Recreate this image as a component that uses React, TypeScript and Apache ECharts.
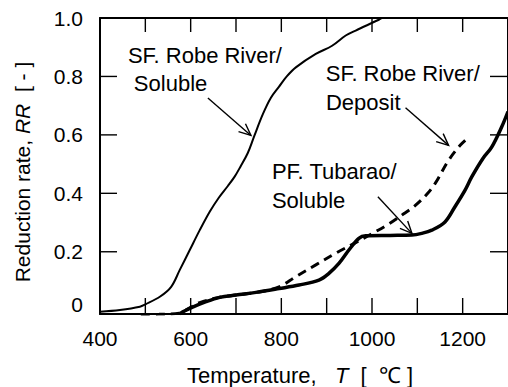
import React, { useEffect, useRef } from "react";
import * as echarts from "echarts";

const xLabelValues = [400, 600, 800, 1000, 1200];
const xTickValues = [500, 600, 700, 800, 900, 1000, 1100, 1200];
const yLabelValues = [0, 0.2, 0.4, 0.6, 0.8, 1.0];
const yTickValues = [0.2, 0.4, 0.6, 0.8];

const sfRobeSoluble = [
  [400, -0.005], [444, 0.001], [488, 0.012], [500, 0.02], [532, 0.046], [557, 0.08],
  [576, 0.138], [598, 0.206], [620, 0.274], [642, 0.337], [662, 0.385], [682, 0.425],
  [697, 0.457], [710, 0.492], [726, 0.538], [740, 0.595], [759, 0.67], [777, 0.727],
  [795, 0.765], [812, 0.8], [832, 0.831], [876, 0.877], [912, 0.905], [942, 0.94],
  [964, 0.957], [1015, 0.994], [1022, 1.0],
];

const sfRobeDeposit = [
  [490, -0.015], [530, -0.014], [575, -0.01], [600, 0.01], [620, 0.026], [660, 0.043],
  [700, 0.052], [750, 0.062], [795, 0.08], [832, 0.115], [876, 0.155], [920, 0.195],
  [960, 0.228], [1000, 0.262], [1037, 0.295], [1070, 0.33], [1095, 0.358], [1120, 0.395],
  [1139, 0.433], [1169, 0.513], [1195, 0.565], [1216, 0.595],
];

const pfTubaraoSoluble = [
  [576, -0.012], [598, 0.006], [634, 0.029], [664, 0.044], [700, 0.052], [744, 0.061],
  [795, 0.074], [839, 0.086], [883, 0.103], [905, 0.126], [927, 0.16],
  [949, 0.206], [971, 0.246], [986, 0.255], [1040, 0.256], [1088, 0.257], [1110, 0.263],
  [1132, 0.274], [1161, 0.302], [1183, 0.354], [1205, 0.41], [1220, 0.456], [1245, 0.52],
  [1264, 0.558], [1286, 0.627], [1300, 0.68],
];

const annotationTexts = [
  { text: "SF. Robe River/", at: [461.5, 0.872] },
  { text: "Soluble", at: [474.7, 0.777] },
  { text: "SF. Robe River/", at: [897.9, 0.809] },
  { text: "Deposit", at: [898.5, 0.712] },
  { text: "PF. Tubarao/", at: [779.3, 0.476] },
  { text: "Soluble", at: [779.3, 0.376] },
];

const annotationArrows = [
  { from: [638, 0.726], to: [733, 0.598] },
  { from: [1074, 0.693], to: [1169, 0.564] },
  { from: [1013, 0.388], to: [1088, 0.263] },
];

const X_MIN = 400;
const X_MAX = 1300;
const Y_MIN = -0.013;
const Y_MAX = 1.0;

const FONT = "'Liberation Sans', Arial, Helvetica, sans-serif";

export default function App() {
  const ref = useRef<HTMLDivElement>(null);

  useEffect(() => {
    document.body.style.margin = "0";
    if (!ref.current) return;
    const chart = echarts.init(ref.current, null, { renderer: "svg" });

    const axisLineStyle = { color: "#000", width: 2 };

    // plot size in px -> convert tick lengths to data units
    const plotW = 508 - 100;
    const plotH = 387 - 18 - 73;
    const dxPerPx = (X_MAX - X_MIN) / plotW;
    const dyPerPx = (Y_MAX - Y_MIN) / plotH;

    const tickSeries: any[] = [];
    xTickValues.forEach((v) => {
      tickSeries.push([[v, Y_MIN], [v, Y_MIN + 16 * dyPerPx]]);
      tickSeries.push([[v, Y_MAX], [v, Y_MAX - 14 * dyPerPx]]);
    });
    yTickValues.forEach((v) => {
      tickSeries.push([[X_MIN, v], [X_MIN + 17 * dxPerPx, v]]);
      tickSeries.push([[X_MAX, v], [X_MAX - 18 * dxPerPx, v]]);
    });

    const option: any = {
      animation: false,
      grid: { left: 100, right: 0, top: 18, bottom: 73 },
      xAxis: [
        {
          type: "value",
          min: X_MIN,
          max: X_MAX,
          position: "bottom",
          axisLine: { show: true, onZero: false, lineStyle: axisLineStyle },
          axisTick: { show: false },
          axisLabel: {
            show: true,
            customValues: xLabelValues,
            color: "#000",
            fontSize: 21,
            fontFamily: FONT,
            margin: 14,
            formatter: (v: number) => String(v),
          },
          splitLine: { show: false },
        },
        {
          type: "value",
          min: X_MIN,
          max: X_MAX,
          position: "top",
          axisLine: { show: true, onZero: false, lineStyle: axisLineStyle },
          axisTick: { show: false },
          axisLabel: { show: false },
          splitLine: { show: false },
        },
      ],
      yAxis: [
        {
          type: "value",
          min: Y_MIN,
          max: Y_MAX,
          position: "left",
          axisLine: { show: true, onZero: false, lineStyle: axisLineStyle },
          axisTick: { show: false },
          axisLabel: {
            show: true,
            customValues: yLabelValues,
            color: "#000",
            fontSize: 21,
            fontFamily: FONT,
            margin: 17,
            formatter: (v: number) => (Math.abs(v) < 1e-9 ? "{z|0}" : v.toFixed(1)),
            rich: { z: { fontSize: 21, fontFamily: FONT, color: "#000", padding: [0, 0, 12, 0] } },
          },
          splitLine: { show: false },
        },
        {
          type: "value",
          min: Y_MIN,
          max: Y_MAX,
          position: "right",
          axisLine: { show: true, onZero: false, lineStyle: axisLineStyle },
          axisTick: { show: false },
          axisLabel: { show: false },
          splitLine: { show: false },
        },
      ],
      series: [
        {
          name: "SF. Robe River/Soluble",
          type: "line",
          data: sfRobeSoluble,
          xAxisIndex: 0,
          yAxisIndex: 0,
          symbol: "none",
          smooth: 0.35,
          lineStyle: { color: "#000", width: 2 },
        },
        {
          name: "SF. Robe River/Deposit",
          type: "line",
          data: sfRobeDeposit,
          xAxisIndex: 0,
          yAxisIndex: 0,
          symbol: "none",
          smooth: 0.35,
          lineStyle: { color: "#000", width: 3, type: [9, 6] },
        },
        {
          name: "PF. Tubarao/Soluble",
          type: "line",
          data: pfTubaraoSoluble,
          xAxisIndex: 0,
          yAxisIndex: 0,
          symbol: "none",
          smooth: 0.35,
          lineStyle: { color: "#000", width: 3.5 },
        },
        ...tickSeries.map((d, i) => ({
          name: "tick" + i,
          type: "line",
          data: d,
          xAxisIndex: 0,
          yAxisIndex: 0,
          symbol: "none",
          silent: true,
          clip: false,
          lineStyle: { color: "#000", width: 1.4 },
        })),
      ],
    };

    chart.setOption(option);

    const toPx = (p: number[]) => chart.convertToPixel({ gridIndex: 0 }, p) as number[];
    const graphics: any[] = [];

    annotationTexts.forEach((t, i) => {
      const [px, py] = toPx(t.at);
      graphics.push({
        id: "txt" + i,
        type: "text",
        x: px,
        y: py,
        style: {
          text: t.text,
          fontSize: 22,
          fontFamily: FONT,
          fill: "#000",
          align: "left",
          verticalAlign: "middle",
        },
      });
    });

    annotationArrows.forEach((a, i) => {
      const [x1, y1] = toPx(a.from);
      const [x2, y2] = toPx(a.to);
      graphics.push({
        id: "arrLine" + i,
        type: "line",
        shape: { x1, y1, x2, y2 },
        style: { stroke: "#000", lineWidth: 1.4 },
      });
      const ang = Math.atan2(y2 - y1, x2 - x1);
      const L = 13;
      const spread = 0.42;
      const p1 = [x2 - L * Math.cos(ang - spread), y2 - L * Math.sin(ang - spread)];
      const p2 = [x2 - L * Math.cos(ang + spread), y2 - L * Math.sin(ang + spread)];
      graphics.push({
        id: "arrHead" + i,
        type: "polyline",
        shape: { points: [p1, [x2, y2], p2] },
        style: { stroke: "#000", lineWidth: 1.4, fill: null },
      });
    });

    graphics.push({
      id: "xTitle",
      type: "text",
      x: 187,
      y: 375,
      style: {
        text: "Temperature,   {i|T}  [  ℃ ]",
        fontSize: 22,
        fontFamily: FONT,
        fill: "#000",
        align: "left",
        verticalAlign: "middle",
        rich: { i: { fontStyle: "italic", fontSize: 22, fontFamily: FONT, fill: "#000" } },
      },
    });

    graphics.push({
      id: "yTitle",
      type: "text",
      x: 22,
      y: 172,
      rotation: Math.PI / 2,
      style: {
        text: "Reduction rate, {i|RR}  [ - ]",
        fontSize: 21,
        fontFamily: FONT,
        fill: "#000",
        align: "center",
        verticalAlign: "middle",
        rich: { i: { fontStyle: "italic", fontSize: 21, fontFamily: FONT, fill: "#000" } },
      },
    });

    chart.setOption({ graphic: graphics });

    return () => {
      chart.dispose();
    };
  }, []);

  return <div ref={ref} style={{ width: 508, height: 387 }} />;
}
